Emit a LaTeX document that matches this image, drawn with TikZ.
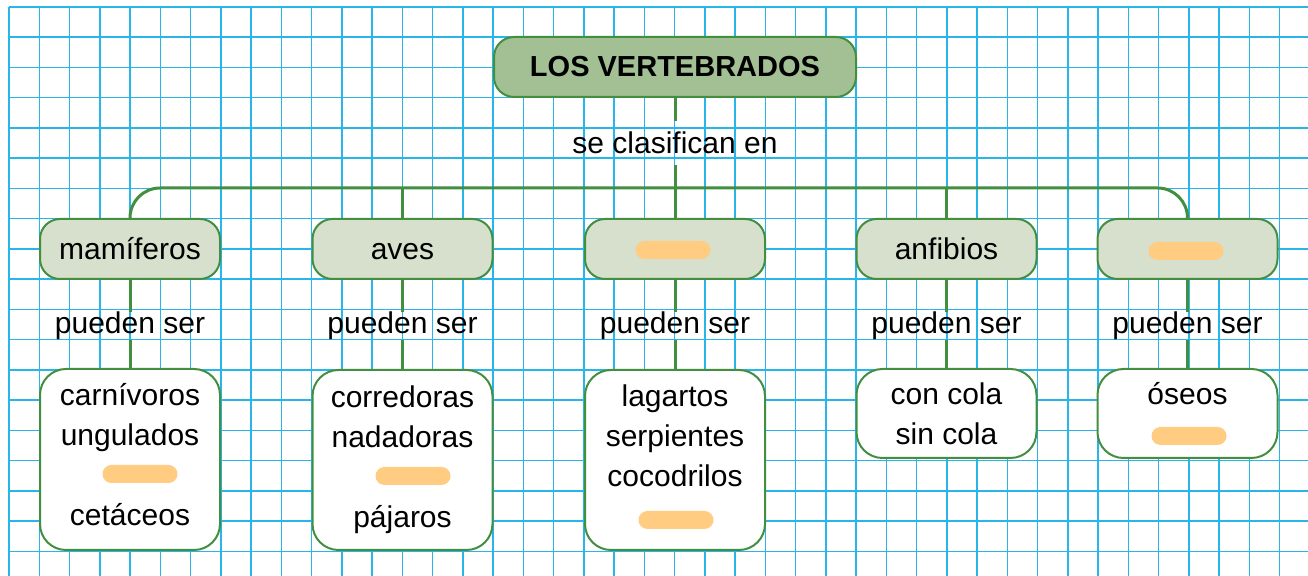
\documentclass[tikz,border=0pt]{standalone}
\usepackage{fontspec}
\setmainfont{Liberation Sans}
\definecolor{verdeborde}{RGB}{67,143,64}
\definecolor{verdetitulo}{RGB}{163,192,149}
\definecolor{verdeclaro}{RGB}{214,224,205}
\definecolor{naranja}{RGB}{255,204,130}
\definecolor{azulcuadro}{RGB}{40,182,234}
\tikzset{titulo/.style={draw=verdeborde,line width=1pt,fill=verdetitulo,rounded
corners=10pt,minimum width=181pt,minimum height=30pt,font=\bfseries\fontsize{14.5}{18}\selectfont},clase/.style={draw=verdeborde,line width=1pt,fill=verdeclaro,rounded
corners=10pt,minimum width=90pt,minimum height=30pt,text height=11pt,text depth=0pt}}
\tikzset{ejemplos/.style={draw=verdeborde,line width=1pt,fill=white,rounded
corners=13pt,minimum width=90pt,align=center},hueco/.style={fill=naranja,rounded
corners=4.5pt,minimum width=37.5pt,minimum height=9pt,inner sep=0pt}}
\tikzstyle{enlace}    = [inner sep=0pt]
\tikzstyle{conector}  = [draw=verdeborde,line width=1.5pt]
\tikzstyle{cuadro}    = [fill=azulcuadro]
\newcommand{\bajar}[1]{\rule[-#1]{0pt}{0pt}}

\begin{document}
\begin{tikzpicture}[x=0.5pt,y=-0.5pt]
		\useasboundingbox (0,0) rectangle (1308,576);
		\fill[white] (0,0) rectangle (1308,576);
		\foreach \i in {0,...,43}
			\path[cuadro] ({8.25+30.25*\i},7) rectangle ++(1.5,569);
		\foreach \j in {0,...,18}
			\path[cuadro] (9,{6.25+30.25*\j}) rectangle ++(1299,1.5);

		\begin{scope}[every node/.style={font=\fontsize{15}{20}\selectfont,text=black}]
			\node[titulo] (vertebrados) at (675,67) {LOS VERTEBRADOS};
			\node[enlace,inner sep=5.5pt] (clasifican) at (675,143) {se clasifican en};
			\coordinate (barra) at (675,188);

			\node[clase] (mamiferos) at (130,249) {mamíferos};
			\node[clase] (aves) at (402.5,249) {aves};
			\node[clase] (reptiles) at (675,249) {};
			\node[clase] (anfibios) at (946.5,249) {anfibios};
			\node[clase] (peces) at (1187.5,249) {};

			\foreach \clase/\grupo in {mamiferos/m,aves/a,reptiles/r,anfibios/f,peces/p}
				\node[enlace] (ps-\grupo) at (\clase |- 0,326) {pueden ser};

			\node[ejemplos,minimum height=90.5pt] (b-m) at (130,459.5) {carnívoros\\ungulados\\\mbox{}\\cetáceos\bajar{5pt}};
			\node[ejemplos,minimum height=90pt] (b-a) at (402.5,460) {corredoras\\nadadoras\\\mbox{}\\pájaros};
			\node[ejemplos,minimum height=90pt] (b-r) at (675,460) {lagartos\\serpientes\\cocodrilos\\\mbox{}\bajar{4pt}};
			\node[ejemplos,minimum height=44.5pt] (b-f) at (946.5,413.5) {con cola\\sin cola};
			\node[ejemplos,minimum height=44.5pt] (b-p) at (1187.5,413.5) {óseos\\\mbox{}};

			\node[hueco] (h-rc) at (673,250) {};
			\node[hueco] (h-pc) at (1186,251) {};
			\node[hueco] (h-m) at (140,474) {};
			\node[hueco] (h-a) at (413,476) {};
			\node[hueco] (h-r) at (676,520) {};
			\node[hueco] (h-p) at (1189,436) {};
		\end{scope}

		\draw[conector] (vertebrados) -- (clasifican) -- (reptiles);
		\draw[conector,rounded corners=15pt] (mamiferos.north) |- (barra) -| (peces.north);
		\draw[conector] (aves.north) -- (aves.north |- barra);
		\draw[conector] (anfibios.north) -- (anfibios.north |- barra);
		\foreach \clase/\grupo in {mamiferos/m,aves/a,reptiles/r,anfibios/f,peces/p}
			\draw[conector] (\clase) -- (ps-\grupo) -- (b-\grupo);
	\end{tikzpicture}
\end{document}
